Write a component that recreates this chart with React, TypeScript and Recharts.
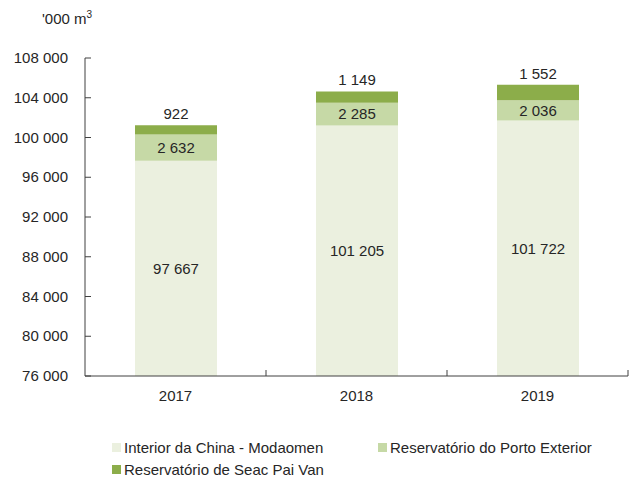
import React from 'react'
import { BarChart, Bar, XAxis, YAxis, LabelList } from 'recharts'

document.body.style.margin = '0'

const years = ['2017', '2018', '2019']
const modaomen = [97667, 101205, 101722]
const portoExterior = [2632, 2285, 2036]
const seacPaiVan = [922, 1149, 1552]
const yTicks = [76000, 80000, 84000, 88000, 92000, 96000, 100000, 104000, 108000]

const seriesNames = [
  'Interior da China - Modaomen',
  'Reservatório do Porto Exterior',
  'Reservatório de Seac Pai Van',
]
const colors = ['#ebf0df', '#c6d9a6', '#8cad4a']

const data = years.map((y, i) => ({
  year: y,
  a: modaomen[i],
  b: portoExterior[i],
  c: seacPaiVan[i],
}))

const fmt = (v: any) => String(v).replace(/\B(?=(\d{3})+(?!\d))/g, ' ')

const FONT = 'Liberation Sans, Arial, sans-serif'
const FS = 15
const TEXT = '#262626'
const AXIS = '#404040'

// y ticks drawn inward (to the right of the axis line)
const YTick = (props: any) => {
  const { x, y, payload } = props
  const axisX = x + 17
  return (
    <g>
      <line x1={axisX} x2={axisX + 6} y1={y} y2={y} stroke={AXIS} />
      <text x={x} y={y} dy={5} textAnchor='end' fontSize={FS} fill={TEXT} fontFamily={FONT}>
        {fmt(payload.value)}
      </text>
    </g>
  )
}

// x ticks sit on category boundaries and point upward
const XTick = (props: any) => {
  const { x, y, payload } = props
  const axisY = y - 14
  const half = 90.5
  return (
    <g>
      <line x1={x + half} x2={x + half} y1={axisY} y2={axisY - 6} stroke={AXIS} />
      <text x={x} y={y} dy={11} textAnchor='middle' fontSize={FS} fill={TEXT} fontFamily={FONT}>
        {payload.value}
      </text>
    </g>
  )
}

export default function App() {
  return (
    <div style={{ position: 'relative', width: 636, height: 483, background: '#fff' }}>
      <div style={{ position: 'absolute', left: 42, top: 9, fontFamily: FONT, fontSize: FS, color: TEXT }}>
        '000 m<sup style={{ fontSize: 10 }}>3</sup>
      </div>
      <BarChart
        width={636}
        height={483}
        data={data}
        margin={{ top: 58, right: 8, bottom: 77, left: 0 }}
      >
        <XAxis
          dataKey='year'
          height={30}
          stroke={AXIS}
          tickLine={false}
          tickSize={6}
          tickMargin={8}
          tick={<XTick />}
        />
        <YAxis
          width={85}
          domain={[76000, 108000]}
          ticks={yTicks}
          allowDataOverflow
          stroke={AXIS}
          tickLine={false}
          tickSize={6}
          tickMargin={11}
          tick={<YTick />}
        />
        <Bar dataKey='a' stackId='s' fill={colors[0]} barSize={82} isAnimationActive={false}>
          <LabelList dataKey='a' position='center' formatter={fmt} fill={TEXT} fontSize={FS} fontFamily={FONT} />
        </Bar>
        <Bar dataKey='b' stackId='s' fill={colors[1]} barSize={82} isAnimationActive={false}>
          <LabelList dataKey='b' position='center' formatter={fmt} fill={TEXT} fontSize={FS} fontFamily={FONT} />
        </Bar>
        <Bar dataKey='c' stackId='s' fill={colors[2]} barSize={82} isAnimationActive={false}>
          <LabelList dataKey='c' position='top' offset={6} formatter={fmt} fill={TEXT} fontSize={FS} fontFamily={FONT} />
        </Bar>
      </BarChart>
      <div
        style={{
          position: 'absolute',
          left: 112,
          top: 436,
          width: 540,
          display: 'flex',
          flexWrap: 'wrap',
          fontFamily: FONT,
          fontSize: FS,
          color: TEXT,
        }}
      >
        {seriesNames.map((n, i) => (
          <div key={n} style={{ width: 266, height: 22, display: 'flex', alignItems: 'center' }}>
            <span style={{ display: 'inline-block', width: 9, height: 9, background: colors[i], marginRight: 3 }} />
            {n}
          </div>
        ))}
      </div>
    </div>
  )
}
